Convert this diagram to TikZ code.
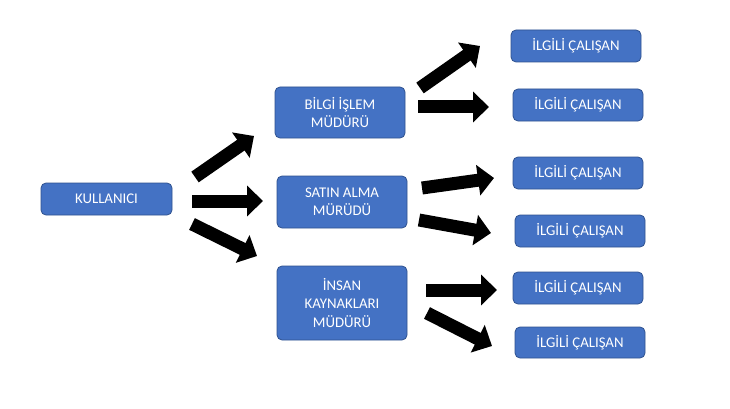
\documentclass[tikz,border=0pt]{standalone}
\usepackage{fontspec}
\setmainfont{Carlito}
\usetikzlibrary{arrows.meta}
\definecolor{boxfill}{HTML}{4472C4}
\definecolor{boxline}{HTML}{2F528F}
\begin{document}
\begin{tikzpicture}[x=1pt,y=-1pt,
  box/.style={draw=boxline, line width=0.8pt, fill=boxfill, rounded corners=5pt,
    text=white, align=center, font=\fontsize{14.8}{18.5}\selectfont, inner sep=0pt,
    minimum width=130pt},
  blockarrow/.style={draw=black, line width=13pt, -{Triangle[length=16pt,width=30pt]}}]
\useasboundingbox[fill=white] (0,0) rectangle (730,409);
% boxes
\node[box, minimum width=131pt, minimum height=32pt] (user) at (106.5,199) {KULLANICI};
\node[box, minimum height=51pt] (bilgi) at (340,112.5) {BİLGİ İŞLEM\\MÜDÜRÜ};
\node[box, minimum height=52pt] (satin) at (342,202) {SATIN ALMA\\MÜRÜDÜ};
\node[box, minimum height=74pt] (insan) at (342,303) {İNSAN\\KAYNAKLARI\\MÜDÜRÜ};
\node[box, minimum height=32pt] (r1) at (576,46) {İLGİLİ ÇALIŞAN};
\node[box, minimum height=32pt] (r2) at (578,105) {İLGİLİ ÇALIŞAN};
\node[box, minimum height=32pt] (r3) at (578,173) {İLGİLİ ÇALIŞAN};
\node[box, minimum height=32pt] (r4) at (580,231) {İLGİLİ ÇALIŞAN};
\node[box, minimum height=32pt] (r5) at (578,288) {İLGİLİ ÇALIŞAN};
\node[box, minimum height=31pt] (r6) at (580,342.5) {İLGİLİ ÇALIŞAN};
% arrow ends
\coordinate (a1t) at (195,177); \coordinate (a1h) at (254,136);
\coordinate (a2t) at (192,201); \coordinate (a2h) at (263,201);
\coordinate (a3t) at (192,224); \coordinate (a3h) at (257,256);
\coordinate (b1t) at (420,88);  \coordinate (b1h) at (480,46);
\coordinate (b2t) at (418,107); \coordinate (b2h) at (489,107);
\coordinate (c1t) at (422,188); \coordinate (c1h) at (494,178);
\coordinate (c2t) at (419,220); \coordinate (c2h) at (491,233);
\coordinate (d1t) at (426,290); \coordinate (d1h) at (497,290);
\coordinate (d2t) at (427,313); \coordinate (d2h) at (492,346);
% arrows
\foreach \p in {a1,a2,a3,b1,b2,c1,c2,d1,d2}
  \draw[blockarrow] (\p t) -- (\p h);
\end{tikzpicture}
\end{document}
